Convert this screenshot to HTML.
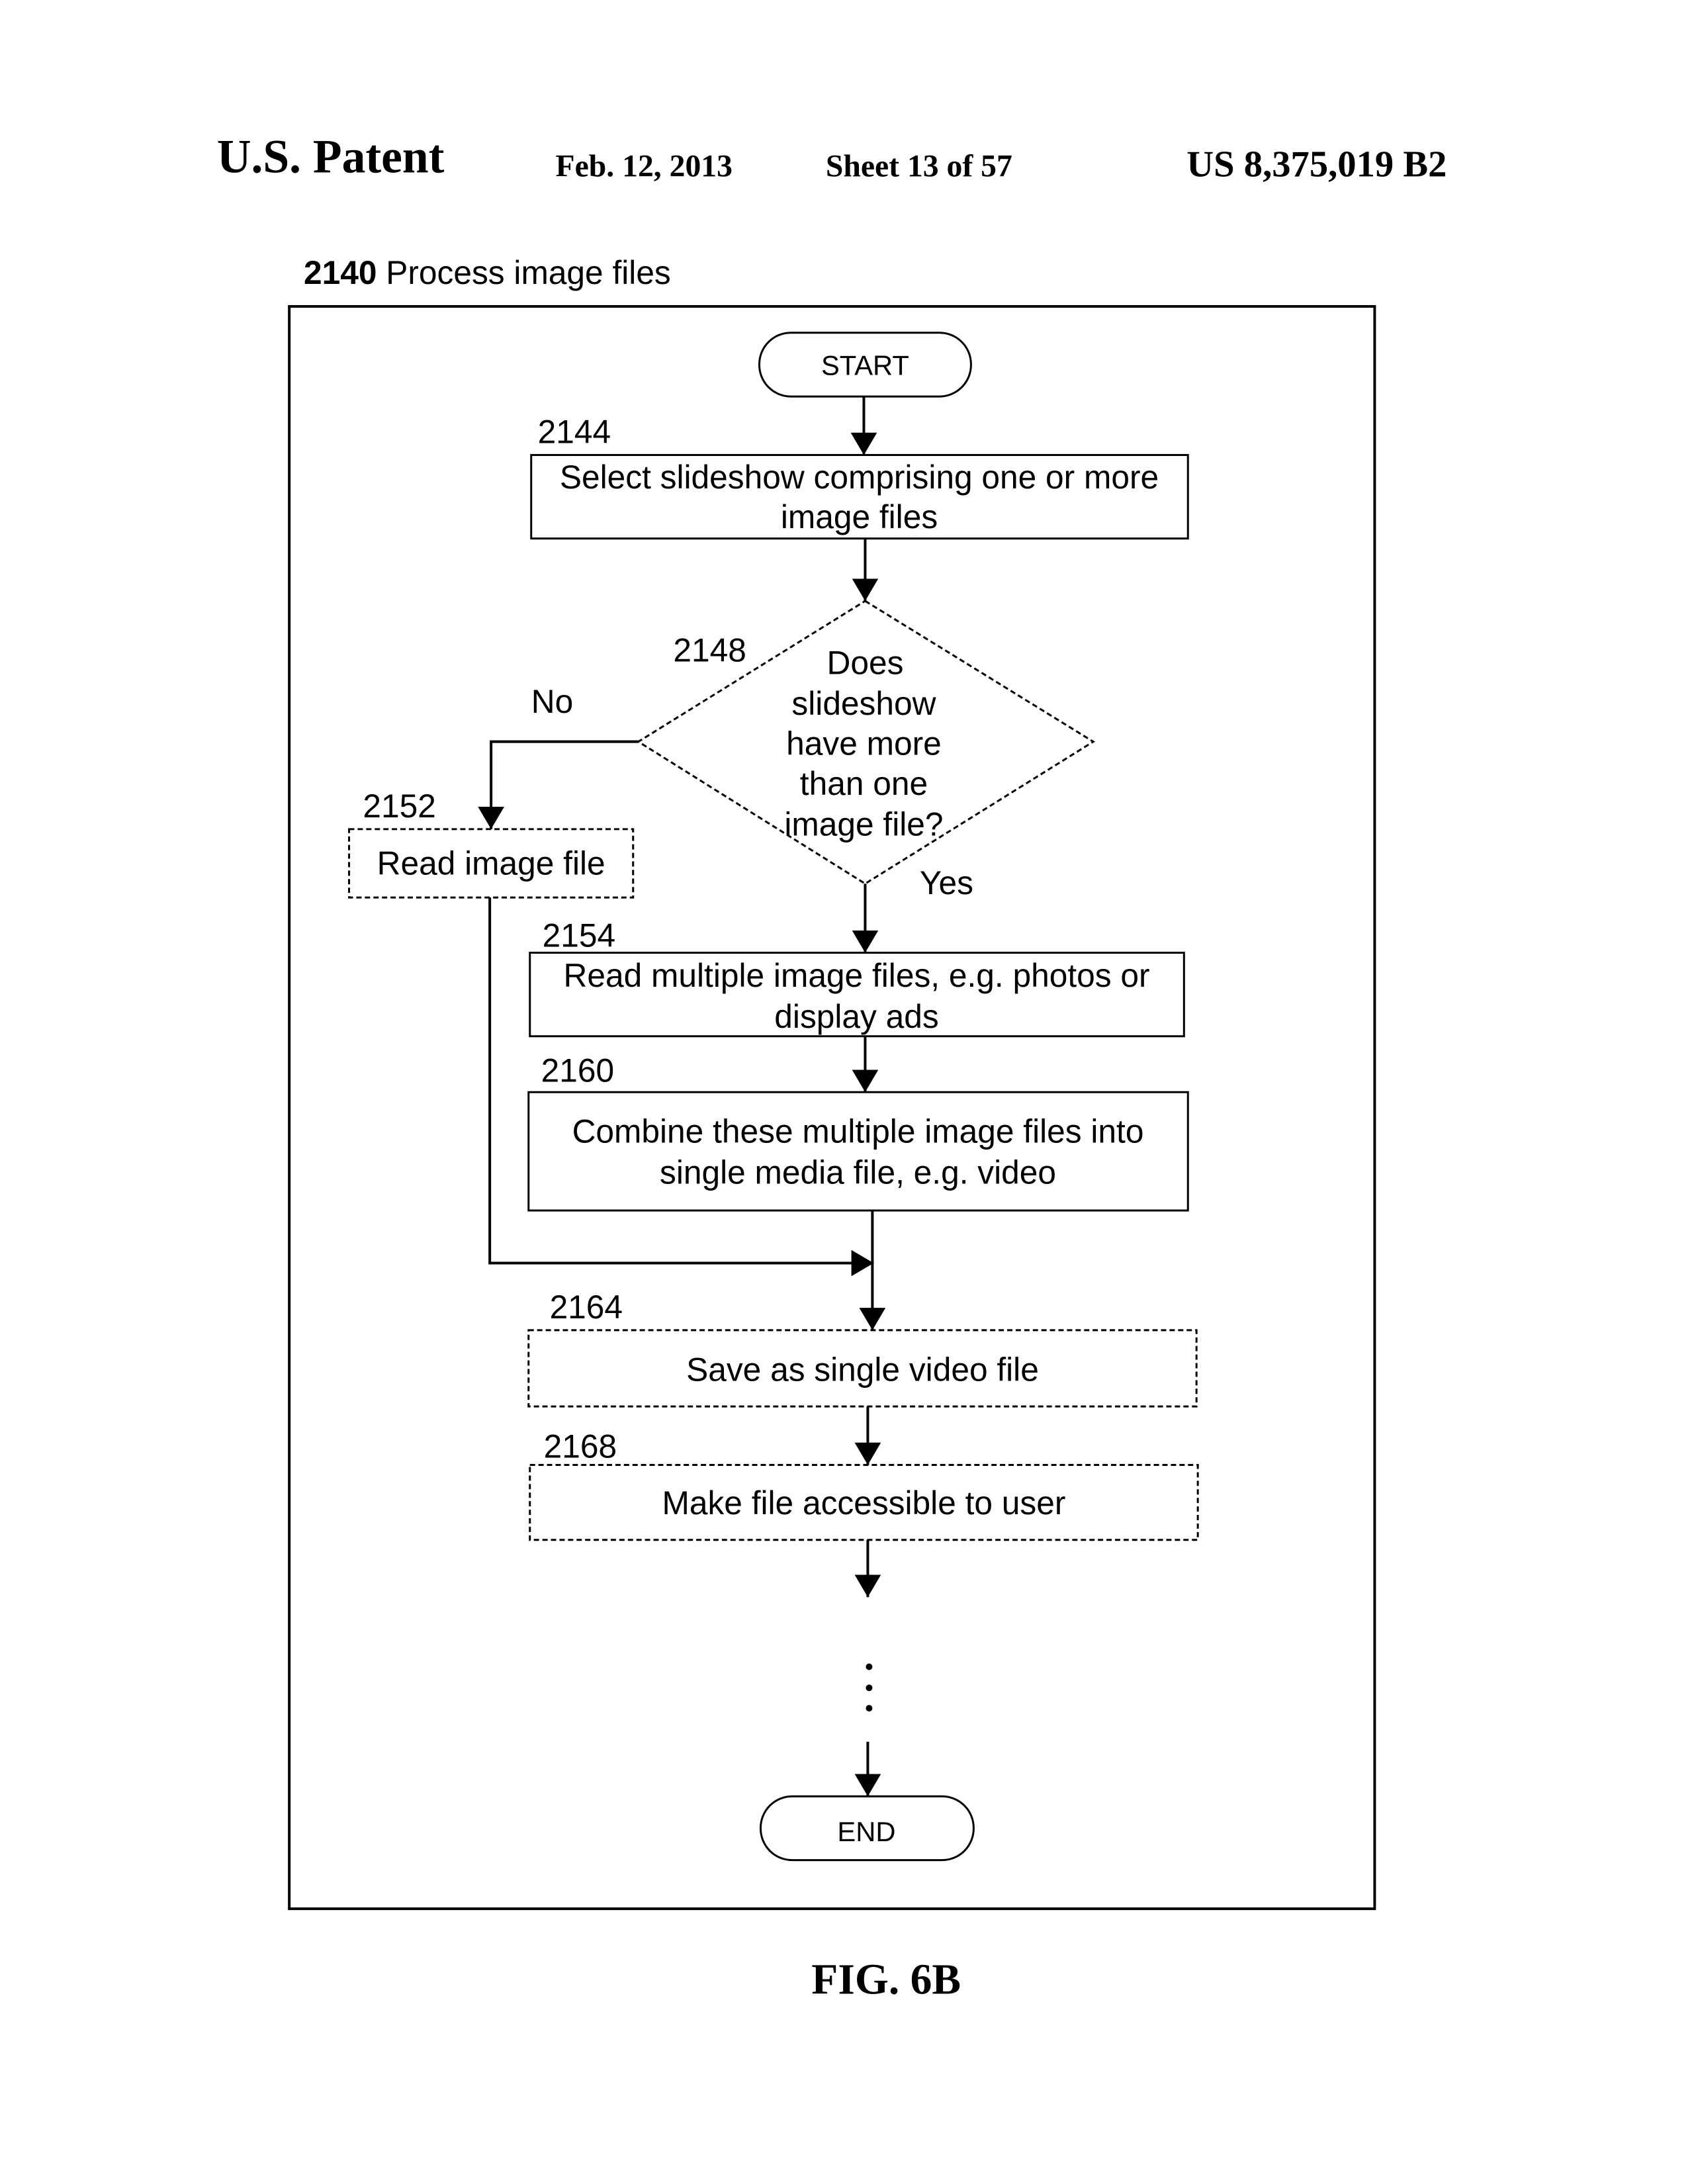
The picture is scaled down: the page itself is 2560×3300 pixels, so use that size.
<!DOCTYPE html>
<html><head><meta charset="utf-8"><style>
body{margin:0;background:#fff;}
svg{display:block}
</style></head><body>
<svg width="2560" height="3300" xmlns="http://www.w3.org/2000/svg" font-family="Liberation Sans, sans-serif">
<defs>
<marker id="b" markerWidth="34" markerHeight="40" refX="34" refY="20" orient="auto" markerUnits="userSpaceOnUse"><path d="M0,0 L34,20 L0,40z" fill="#000"/></marker></defs>
<g transform="scale(0.9935)">
<g font-family="Liberation Serif, serif" font-weight="bold" fill="#000">
<text x="330" y="262" font-size="72">U.S. Patent</text>
<text x="845" y="268" font-size="48">Feb. 12, 2013</text>
<text x="1256" y="268" font-size="48">Sheet 13 of 57</text>
<text x="1805" y="268" font-size="57">US 8,375,019 B2</text>
<text x="1348" y="3032" font-size="66" text-anchor="middle">FIG. 6B</text>
</g>
<text x="462" y="432" font-size="50"><tspan font-weight="bold">2140</tspan> Process image files</text>
<rect x="440" y="466" width="1651" height="2437" fill="none" stroke="#000" stroke-width="4"/>
<g fill="none" stroke="#000" stroke-width="3">
<rect x="1155" y="506" width="322" height="97" rx="48"/>
<rect x="808" y="692" width="999" height="127"/>
<polygon points="1316,914 1663,1128 1316,1344 971,1128" stroke-dasharray="8,5"/>
<rect x="531" y="1261" width="432" height="104" stroke-dasharray="8,5"/>
<rect x="806" y="1449" width="995" height="127"/>
<rect x="804" y="1661" width="1003" height="180"/>
<rect x="804" y="2023" width="1016" height="116" stroke-dasharray="8,5"/>
<rect x="806" y="2228" width="1016" height="114" stroke-dasharray="8,5"/>
<rect x="1157" y="2732" width="324" height="97" rx="48"/>
</g>
<g stroke="#000" stroke-width="4" fill="none">
<line x1="1314" y1="603" x2="1314" y2="692" marker-end="url(#b)"/>
<line x1="1316" y1="819" x2="1316" y2="914" marker-end="url(#b)"/>
<polyline points="971,1128 747,1128 747,1261" marker-end="url(#b)"/>
<line x1="1316" y1="1344" x2="1316" y2="1449" marker-end="url(#b)"/>
<line x1="1316" y1="1576" x2="1316" y2="1661" marker-end="url(#b)"/>
<polyline points="745,1365 745,1921 1329,1921" marker-end="url(#b)"/>
<line x1="1327" y1="1841" x2="1327" y2="2023" marker-end="url(#b)"/>
<line x1="1320" y1="2139" x2="1320" y2="2228" marker-end="url(#b)"/>
<line x1="1320" y1="2342" x2="1320" y2="2429" marker-end="url(#b)"/>
<line x1="1320" y1="2649" x2="1320" y2="2732" marker-end="url(#b)"/>
</g>
<g fill="#000"><circle cx="1322" cy="2535" r="5"/><circle cx="1322" cy="2567" r="5"/><circle cx="1322" cy="2598" r="5"/></g>
<g font-size="50" fill="#000">
<text x="1316" y="570" font-size="42" text-anchor="middle">START</text>
<text x="1318" y="2800" font-size="42" text-anchor="middle">END</text>
<text x="818" y="674">2144</text>
<text x="1024" y="1006">2148</text>
<text x="808" y="1084">No</text>
<text x="552" y="1243">2152</text>
<text x="1399" y="1360">Yes</text>
<text x="825" y="1440">2154</text>
<text x="823" y="1645">2160</text>
<text x="836" y="2005">2164</text>
<text x="827" y="2217">2168</text>
<g text-anchor="middle">
<text x="1307" y="743">Select slideshow comprising one or more</text>
<text x="1307" y="803">image files</text>
<text x="1316" y="1025">Does</text>
<text x="1314" y="1087">slideshow</text>
<text x="1314" y="1148">have more</text>
<text x="1314" y="1209">than one</text>
<text x="1314" y="1271">image file?</text>
<text x="747" y="1330">Read image file</text>
<text x="1303" y="1501">Read multiple image files, e.g. photos or</text>
<text x="1303" y="1563">display ads</text>
<text x="1305" y="1738">Combine these multiple image files into</text>
<text x="1305" y="1800">single media file, e.g. video</text>
<text x="1312" y="2100">Save as single video file</text>
<text x="1314" y="2303">Make file accessible to user</text>
</g></g>
</g>
</svg>
</body></html>
